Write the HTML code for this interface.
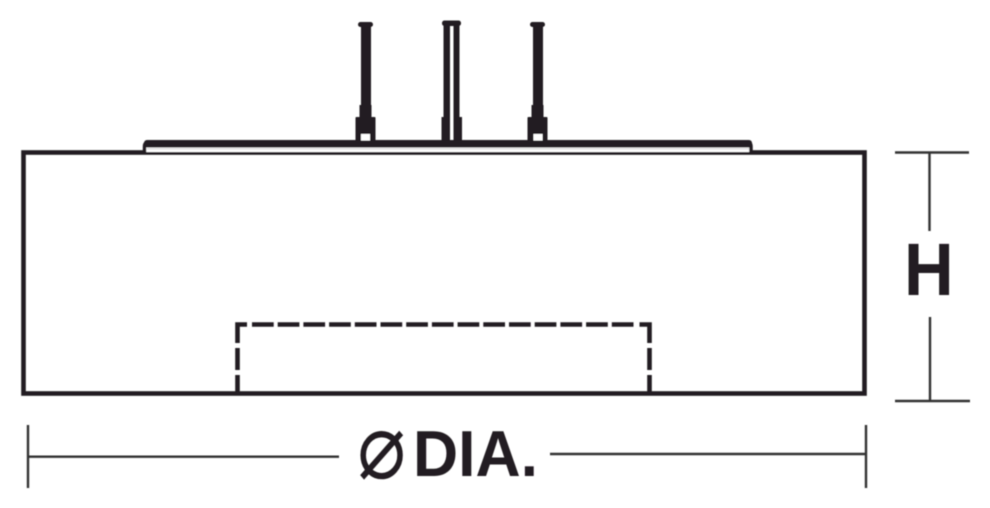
<!DOCTYPE html>
<html>
<head>
<meta charset="utf-8">
<style>
html,body{margin:0;padding:0;background:#fff;width:990px;height:508px;overflow:hidden}
svg{display:block}
text{fill:#231f20}
</style>
</head>
<body>
<svg width="990" height="508" viewBox="0 0 990 508" xmlns="http://www.w3.org/2000/svg">
<defs>
  <filter id="b" x="0" y="0" width="990" height="508" filterUnits="userSpaceOnUse">
    <feGaussianBlur stdDeviation="0.5"/>
  </filter>
</defs>
<g filter="url(#b)">
  <!-- main body -->
  <rect x="23.5" y="152.5" width="841" height="241" fill="none" stroke="#231f20" stroke-width="4.6"/>
  <!-- plate -->
  <path d="M144.5 152V146.5Q144.5 142.5 148.5 142.5H747Q751 142.5 751 146.5V152" fill="#fff" stroke="#231f20" stroke-width="3.5"/>
  <rect x="144" y="140" width="608" height="7.5" rx="3" fill="#231f20"/>
  <rect x="147" y="147.6" width="602" height="2" fill="#e4e4e4"/>
  <!-- pin 1 -->
  <rect x="358" y="22" width="15" height="5" rx="2.5" fill="#231f20"/>
  <rect x="361" y="25" width="10" height="82" fill="#231f20"/>
  <rect x="359.5" y="105" width="12" height="14" fill="#231f20"/>
  <rect x="355.5" y="117" width="20" height="25" rx="1" fill="#231f20"/>
  <rect x="361" y="134" width="9" height="6.5" fill="#fff"/>
  <!-- pin 2 -->
  <rect x="442" y="20.5" width="19" height="5.5" rx="2.5" fill="#231f20"/>
  <rect x="443.5" y="24" width="6.5" height="118" fill="#231f20"/>
  <rect x="453.5" y="24" width="6" height="118" fill="#231f20"/>
  <rect x="441.5" y="117" width="8.5" height="25" fill="#231f20"/>
  <rect x="453.5" y="117" width="8.5" height="25" fill="#231f20"/>
  <!-- pin 3 -->
  <rect x="530" y="22" width="15" height="5" rx="2.5" fill="#231f20"/>
  <rect x="533" y="25" width="10" height="82" fill="#231f20"/>
  <rect x="531.5" y="105" width="12" height="14" fill="#231f20"/>
  <rect x="527.5" y="117" width="20" height="25" rx="1" fill="#231f20"/>
  <rect x="533.5" y="134" width="9" height="6.5" fill="#fff"/>
  <!-- dashed recess -->
  <g fill="none" stroke="#231f20" stroke-width="4.6">
    <path d="M237.5 343V324.5H247"/>
    <path d="M252 324.5H637" stroke-dasharray="21.7 4"/>
    <path d="M639.5 324.5H649.5V343"/>
    <path d="M237.5 348V370M237.5 375V393M649.5 348V370M649.5 375V393"/>
  </g>
  <!-- H dimension -->
  <g fill="none" stroke="#333" stroke-width="2.4">
    <path d="M895 152.5H969M929.5 152.5V231M930 317V401M895 401H970"/>
    <!-- DIA dimension -->
    <path d="M28 425V488M866 425V488M28 456.7H339M550 454H866"/>
  </g>
  <!-- labels -->
  <text transform="translate(904 295) scale(.93 1)" font-family="Liberation Sans, sans-serif" font-weight="700" font-size="74">H</text>
  <text x="413" y="476" font-family="Liberation Sans, sans-serif" font-weight="700" font-size="65" textLength="125" lengthAdjust="spacingAndGlyphs">DIA.</text>
  <text transform="translate(46.6 0) scale(.88 1)" x="353" y="478" font-family="DejaVu Sans, sans-serif" font-size="92">⌀</text>
</g>
</svg>
</body>
</html>
